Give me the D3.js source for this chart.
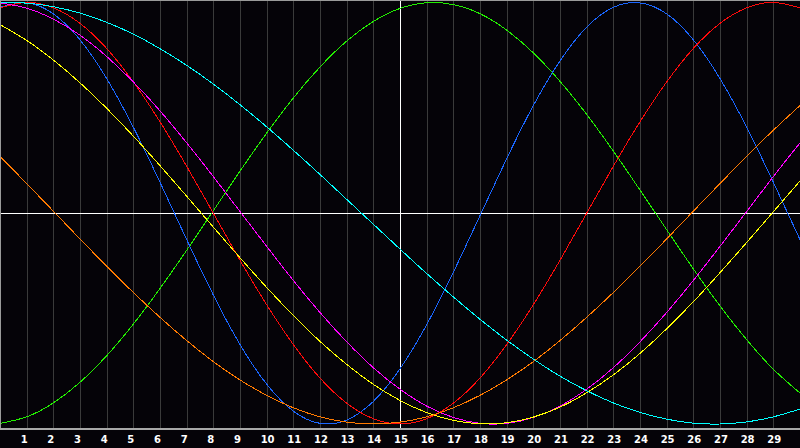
<!doctype html>
<html>
<head>
    <style>
        body { margin: 0; background: #050308; }
        svg { display: block; }
        .grid line { stroke: #3a3a3a; stroke-width: 1; }
        .curve { fill: none; stroke-width: 1; shape-rendering: crispEdges; }
        .tick-label { fill: #ffffff; font-family: "DejaVu Sans", Verdana, sans-serif; font-weight: bold; font-size: 10px; }
    </style>
    <script src="https://d3js.org/d3.v7.min.js"></script>
</head>
<body>
    <svg width="800" height="448"></svg>
    <script>
        // x positions of the samples (one per grid column)
        var steps = d3.range(0, 31);
        var tickLabels = ["1","2","3","4","5","6","7","8","9","10","11","12","13","14","15",
            "16","17","18","19","20","21","22","23","24","25","26","27","28","29"];

        var greenVals = [-0.997,-0.966,-0.900,-0.802,-0.676,-0.526,-0.357,-0.176,0.012,0.200,0.380,
            0.547,0.694,0.817,0.910,0.972,0.999,0.990,0.947,0.869,0.761,
            0.626,0.469,0.295,0.110,-0.078,-0.264,-0.440,-0.600,-0.740,-0.853];
        var blueVals = [0.977,0.998,0.946,0.823,0.639,0.408,0.147,-0.125,-0.388,-0.623,-0.811,
            -0.939,-0.997,-0.981,-0.893,-0.738,-0.529,-0.280,-0.011,0.259,0.511,
            0.723,0.883,0.977,0.998,0.946,0.823,0.639,0.408,0.147,-0.125];
        var redVals = [0.975,1.000,0.975,0.901,0.782,0.623,0.434,0.223,0.000,-0.223,-0.434,
            -0.623,-0.782,-0.901,-0.975,-1.000,-0.975,-0.901,-0.782,-0.623,-0.434,
            -0.223,0.000,0.223,0.434,0.623,0.782,0.901,0.975,1.000,0.975];
        var magentaVals = [0.998,0.973,0.921,0.845,0.744,0.623,0.486,0.334,0.174,0.008,-0.157,
            -0.319,-0.471,-0.610,-0.733,-0.835,-0.915,-0.969,-0.997,-0.997,-0.969,
            -0.915,-0.835,-0.733,-0.610,-0.471,-0.319,-0.157,0.008,0.174,0.334];
        var yellowVals = [0.895,0.820,0.727,0.619,0.498,0.366,0.226,0.081,-0.066,-0.211,-0.352,
            -0.485,-0.608,-0.717,-0.812,-0.888,-0.946,-0.983,-0.999,-0.994,-0.967,
            -0.920,-0.852,-0.767,-0.665,-0.548,-0.420,-0.282,-0.139,0.007,0.153];
        var orangeVals = [0.270,0.141,0.010,-0.122,-0.251,-0.376,-0.494,-0.604,-0.704,-0.791,-0.864,
            -0.923,-0.966,-0.991,-1.000,-0.991,-0.966,-0.923,-0.864,-0.791,-0.704,
            -0.604,-0.494,-0.376,-0.251,-0.122,0.010,0.141,0.270,0.394,0.511];
        var cyanVals = [0.999,0.997,0.980,0.950,0.906,0.850,0.781,0.702,0.613,0.515,0.410,
            0.299,0.184,0.066,-0.052,-0.170,-0.286,-0.397,-0.503,-0.602,-0.692,
            -0.773,-0.842,-0.900,-0.945,-0.977,-0.996,-1.000,-0.990,-0.966,-0.929];

        var series = [
            { color: "#22ee00", values: greenVals },
            { color: "#1a66ff", values: blueVals },
            { color: "#ff0a0a", values: redVals },
            { color: "#ff00ff", values: magentaVals },
            { color: "#ffff00", values: yellowVals },
            { color: "#ff7a00", values: orangeVals },
            { color: "#00ffff", values: cyanVals }
        ];

        var svg = d3.select("svg"),
            plotBottom = 428;

        var x = d3.scaleLinear().domain([0, 30]).range([0, 800]),
            y = d3.scaleLinear().domain([-1, 1]).range([424, 2.5]);

        // background
        svg.append("rect").attr("width", 800).attr("height", 448).attr("fill", "#050308");

        // vertical grid
        svg.append("g").attr("class", "grid")
            .selectAll("line")
            .data(d3.range(1, 30))
            .enter().append("line")
            .attr("x1", d => Math.round(x(d)) + 0.5)
            .attr("x2", d => Math.round(x(d)) + 0.5)
            .attr("y1", 0)
            .attr("y2", plotBottom);

        // crosshair
        svg.append("line")
            .attr("x1", Math.round(x(15)) + 0.5).attr("x2", Math.round(x(15)) + 0.5)
            .attr("y1", 0).attr("y2", plotBottom)
            .attr("stroke", "#ffffff");
        svg.append("line")
            .attr("x1", 0).attr("x2", 800)
            .attr("y1", Math.round(y(0)) + 0.5).attr("y2", Math.round(y(0)) + 0.5)
            .attr("stroke", "#ffffff");

        var line = d3.line()
            .x((d, i) => x(steps[i]))
            .y(d => y(d))
            .curve(d3.curveNatural);

        svg.selectAll(".curve")
            .data(series)
            .enter().append("path")
            .attr("class", "curve")
            .attr("stroke", d => d.color)
            .attr("d", d => line(d.values));

        // frame
        svg.append("line").attr("x1", 0).attr("x2", 800).attr("y1", 0.5).attr("y2", 0.5)
            .attr("stroke", "#9a9a9a");
        svg.append("line").attr("x1", 0.5).attr("x2", 0.5).attr("y1", 0).attr("y2", plotBottom)
            .attr("stroke", "#9a9a9a");
        svg.append("rect").attr("x", 0).attr("y", plotBottom).attr("width", 800).attr("height", 2)
            .attr("fill", "#a8a8a8");

        // bottom labels
        svg.append("g")
            .selectAll("text")
            .data(tickLabels)
            .enter().append("text")
            .attr("class", "tick-label")
            .attr("x", (d, i) => x(i + 1) - 6)
            .attr("y", 443)
            .text(d => d);
    </script>
</body>
</html>
